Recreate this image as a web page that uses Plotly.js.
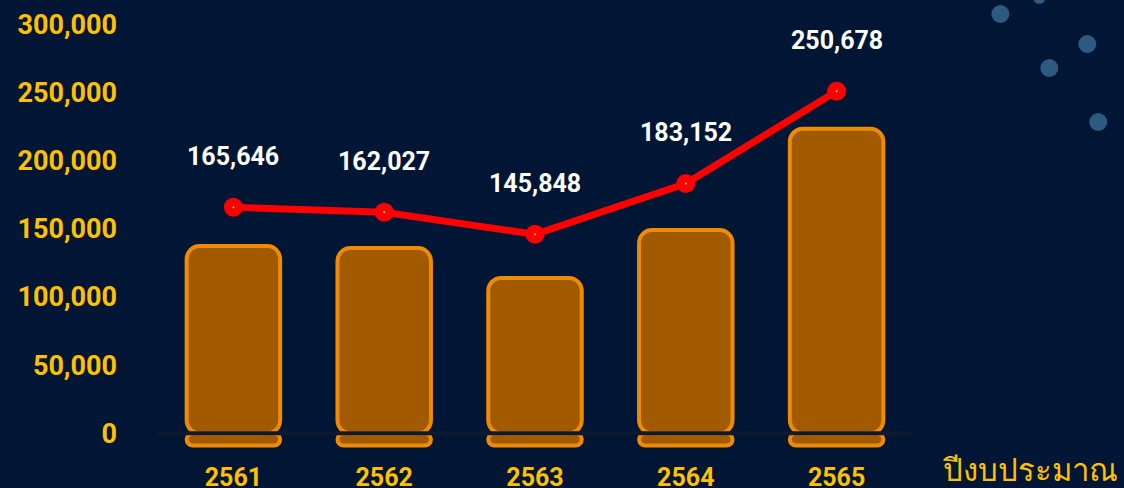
<!DOCTYPE html>
<html>
<head>
<meta charset="utf-8">
<script src="https://cdn.plot.ly/plotly-3.0.1.min.js"></script>
<style>html,body{margin:0;padding:0;background:#001634;}</style>
</head>
<body>
<div id="chart" style="width:1124px;height:488px;"></div>
<script>
// ---- data ----
const years = ['2561', '2562', '2563', '2564', '2565'];
const barValues = [137300, 135800, 113900, 149000, 223300];
const lineValues = [165646, 162027, 145848, 183152, 250678];
const yTickValues = [0, 50000, 100000, 150000, 200000, 250000, 300000];
const xAxisTitle = 'ปีงบประมาณ';

// ---- style ----
const BG = '#001634';
const BAR_FILL = '#a15a00';
const BAR_LINE = '#f08a00';
const YELLOW = '#ffc000';
const FONT = 'Roboto, "Noto Sans", "DejaVu Sans", sans-serif';

const fmt = v => v.toLocaleString('en-US');
const xIdx = years.map((_, i) => i);

const capTrace = {
  type: 'bar', x: xIdx, y: years.map(() => -9000), base: 0,
  marker: {color: BAR_FILL, line: {color: BAR_LINE, width: 4}, cornerradius: 10},
  hoverinfo: 'skip', showlegend: false
};
const barTrace = {
  type: 'bar', x: xIdx, y: barValues, base: 0,
  marker: {color: BAR_FILL, line: {color: BAR_LINE, width: 4}, cornerradius: 13},
  showlegend: false
};
const lineTrace = {
  type: 'scatter', mode: 'lines+markers', x: xIdx, y: lineValues,
  line: {color: '#ff0000', width: 7},
  marker: {color: '#ff0000', size: 19},
  showlegend: false
};
const dotTrace = {
  type: 'scatter', mode: 'markers', x: xIdx, y: lineValues,
  marker: {color: '#ffd000', size: 2},
  hoverinfo: 'skip', showlegend: false
};

const annotations = xIdx.map(i => ({
  x: i, y: lineValues[i], xref: 'x', yref: 'y',
  text: fmt(lineValues[i]), showarrow: false, yshift: 51, xanchor: 'center',
  font: {family: FONT, size: 25, color: '#ffffff', weight: 'bold'}
}));
annotations.push({
  xref: 'paper', yref: 'paper', x: 1.157, y: -0.02, xanchor: 'center', yanchor: 'middle',
  text: xAxisTitle, showarrow: false,
  font: {family: '"Noto Sans", "DejaVu Sans", sans-serif', size: 31, color: YELLOW}
});

// decorative bubbles
const bubblePx = [[1001, 14, 9], [1088, 44, 9], [1050, 68, 9], [1099, 122, 9], [1040, -2, 6]];
const L = 157.5, W = 755, T = 10, H = 450;
const shapes = bubblePx.map(([px, py, r]) => ({
  type: 'circle', xref: 'paper', yref: 'paper', xsizemode: 'pixel', ysizemode: 'pixel',
  xanchor: (px - L) / W, yanchor: (T + H - py) / H,
  x0: -r, x1: r, y0: -r, y1: r,
  fillcolor: '#2c5a80', line: {width: 0}, layer: 'below'
}));
// gap line at zero between bar body and cap
shapes.push({
  type: 'line', xref: 'paper', yref: 'y', x0: 0, x1: 1, y0: 0, y1: 0,
  line: {color: '#0d1a30', width: 4}, layer: 'above'
});

const layout = {
  width: 1124, height: 488,
  paper_bgcolor: BG, plot_bgcolor: BG,
  margin: {l: 157.5, r: 211.5, t: 10, b: 28},
  barmode: 'overlay', bargap: 0.38,
  showlegend: false,
  xaxis: {
    type: 'linear', range: [-0.5, 4.5], tickvals: xIdx, ticktext: years,
    showgrid: false, zeroline: false, showline: false,
    ticks: '', tickfont: {family: FONT, size: 25, color: YELLOW, weight: 'bold'},
    ticklabelstandoff: 0
  },
  yaxis: {
    range: [-19570, 310300], tickvals: yTickValues, ticktext: yTickValues.map(fmt),
    showgrid: false, zeroline: false, showline: false, ticks: '',
    tickfont: {family: FONT, size: 27, color: YELLOW, weight: 'bold'},
    ticklabelstandoff: 40
  },
  annotations: annotations,
  shapes: shapes
};

Plotly.newPlot('chart', [capTrace, barTrace, lineTrace, dotTrace], layout, {displayModeBar: false, staticPlot: true});
</script>
</body>
</html>
